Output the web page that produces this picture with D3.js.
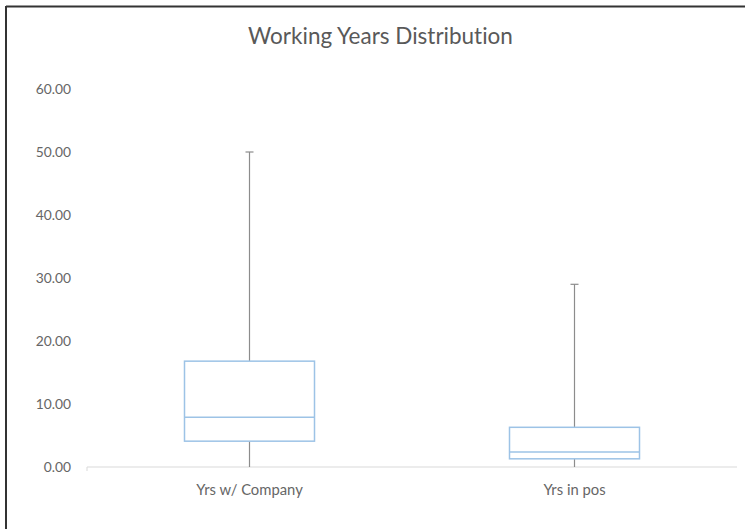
<!DOCTYPE html>
<html>
<head>
<meta charset="utf-8">
<script src="https://cdn.jsdelivr.net/npm/d3@7/dist/d3.min.js"></script>
<style>
  html, body { margin: 0; padding: 0; background: #fff; overflow: hidden; }
  svg { display: block; }
  text { font-family: Lato, "Open Sans", sans-serif; font-variant-ligatures: none; }
</style>
</head>
<body>
<svg id="chart" width="745" height="529"></svg>
<script>
// Box plot summaries for each category
const categories = ["Yrs w/ Company", "Yrs in pos"];
const minValues = [0, 0];
const q1Values = [4.1, 1.3];
const medianValues = [7.9, 2.4];
const q3Values = [16.8, 6.3];
const maxValues = [50, 29];
const yTicks = [0, 10, 20, 30, 40, 50, 60];

const W = 745, H = 529;
const margin = { left: 87, right: 8, top: 89, bottom: 62 };
const svg = d3.select("#chart");

svg.append("rect").attr("width", W).attr("height", H).attr("fill", "#fff");

// Frame edges (top and left)
svg.append("line").attr("x1", 6).attr("x2", W).attr("y1", 6.5).attr("y2", 6.5)
  .attr("stroke", "#333").attr("stroke-width", 2);
svg.append("line").attr("x1", 6).attr("x2", 6).attr("y1", 6).attr("y2", H)
  .attr("stroke", "#333").attr("stroke-width", 2);

const x = d3.scaleBand().domain(categories)
  .range([margin.left, W - margin.right]);
const y = d3.scaleLinear().domain([0, 60])
  .range([H - margin.bottom, margin.top]);

// Title
svg.append("text").attr("x", 380.5).attr("y", 44)
  .attr("text-anchor", "middle").attr("fill", "#595959")
  .attr("font-size", 22.5).text("Working Years Distribution");

// Y axis labels
const yAxis = d3.axisLeft(y).tickValues(yTicks)
  .tickFormat(d3.format(".2f")).tickSize(0).tickPadding(0);
const gy = svg.append("g").attr("transform", `translate(71,0)`).call(yAxis);
gy.select(".domain").remove();
gy.selectAll("text").attr("fill", "#666").attr("font-size", 13.8)
  .style("font-family", "Lato, sans-serif");

// Baseline axis
const xAxis = d3.axisBottom(x).tickSize(0).tickPadding(17);
const gx = svg.append("g").attr("transform", `translate(0,${y(0)})`).call(xAxis);
gx.select(".domain").attr("stroke", "#d9d9d9").attr("d",
  `M${margin.left},4V0H${W - margin.right}`);
gx.selectAll("text").attr("fill", "#666").attr("font-size", 14.8)
  .style("font-family", "Lato, sans-serif");

const data = categories.map((c, i) => ({
  c, min: minValues[i], q1: q1Values[i], med: medianValues[i],
  q3: q3Values[i], max: maxValues[i]
}));

const boxW = x.bandwidth() * 0.4;
const cx = d => x(d.c) + x.bandwidth() / 2;
const g = svg.append("g");
const item = g.selectAll("g.box").data(data).join("g").attr("class", "box");

// Whiskers
item.append("line")
  .attr("x1", cx).attr("x2", cx)
  .attr("y1", d => y(d.max)).attr("y2", d => y(d.q3))
  .attr("stroke", "#8c8c8c").attr("stroke-width", 1.2);
item.append("line")
  .attr("x1", cx).attr("x2", cx)
  .attr("y1", d => y(d.q1)).attr("y2", d => y(d.min))
  .attr("stroke", "#8c8c8c").attr("stroke-width", 1.2);
// Whisker caps
item.append("line")
  .attr("x1", d => cx(d) - 4).attr("x2", d => cx(d) + 4)
  .attr("y1", d => y(d.max)).attr("y2", d => y(d.max))
  .attr("stroke", "#8c8c8c").attr("stroke-width", 1.2);

// Boxes
item.append("rect")
  .attr("x", d => cx(d) - boxW / 2)
  .attr("width", boxW)
  .attr("y", d => y(d.q3))
  .attr("height", d => y(d.q1) - y(d.q3))
  .attr("fill", "#fff").attr("stroke", "#9dc3e6").attr("stroke-width", 1.5);
// Median
item.append("line")
  .attr("x1", d => cx(d) - boxW / 2)
  .attr("x2", d => cx(d) + boxW / 2)
  .attr("y1", d => y(d.med)).attr("y2", d => y(d.med))
  .attr("stroke", "#9dc3e6").attr("stroke-width", 1.5);
</script>
</body>
</html>
